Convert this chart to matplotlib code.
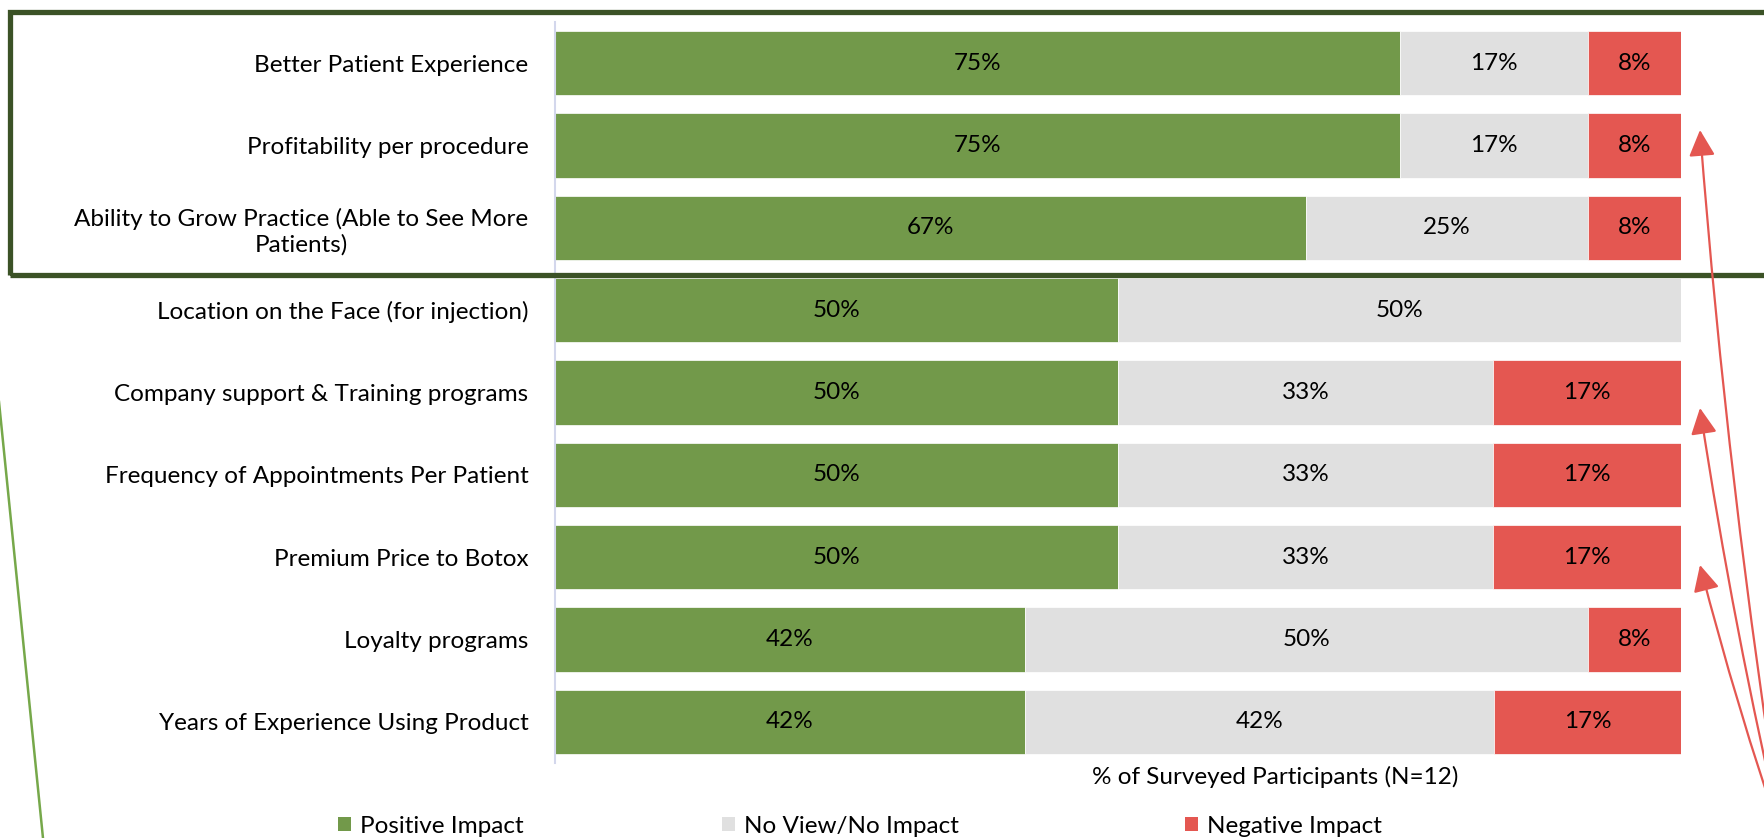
import matplotlib
matplotlib.use("Agg")
import matplotlib.pyplot as plt
from matplotlib.patches import Patch, Rectangle, FancyArrowPatch
from matplotlib.lines import Line2D

# survey results, % of participants (N=12)
factors = [
    "Better Patient Experience",
    "Profitability per procedure",
    "Ability to Grow Practice (Able to See More\nPatients)",
    "Location on the Face (for injection)",
    "Company support & Training programs",
    "Frequency of Appointments Per Patient",
    "Premium Price to Botox",
    "Loyalty programs",
    "Years of Experience Using Product",
]
positive = [75.0, 75.0, 66.7, 50.0, 50.0, 50.0, 50.0, 41.7, 41.7]
no_view = [16.7, 16.7, 25.0, 50.0, 33.3, 33.3, 33.3, 50.0, 41.7]
negative = [8.3, 8.3, 8.3, 0.0, 16.7, 16.7, 16.7, 8.3, 16.7]

series_names = ["Positive Impact", "No View/No Impact", "Negative Impact"]
colors = ["#72994a", "#e0e0e0", "#e45751"]

plt.rcParams["font.family"] = ["Lato", "DejaVu Sans"]
FS = 17.5

W, H = 1765, 838
fig = plt.figure(figsize=(W / 100, H / 100), dpi=100)
ax = fig.add_axes([555 / W, 1 - 763 / H, 1126 / W, 741 / H])

y = list(range(len(factors)))
left = [0.0] * len(factors)
for vals, col, name in zip([positive, no_view, negative], colors, series_names):
    ax.barh(y, vals, left=left, height=0.78, color=col, edgecolor="white",
            linewidth=0.5, label=name)
    for i, v in enumerate(vals):
        if v > 0:
            ax.text(left[i] + v / 2, i, f"{v:.0f}%", ha="center", va="center",
                    fontsize=FS, color="black")
    left = [l + v for l, v in zip(left, vals)]

ax.set_xlim(0, 100)
ax.set_ylim(len(factors) - 0.5, -0.5)
ax.set_yticks(y)
ax.set_yticklabels(factors, fontsize=FS, multialignment="center")
ax.tick_params(axis="y", length=0, pad=19)
ax.set_xticks([])
for s in ["top", "right", "bottom"]:
    ax.spines[s].set_visible(False)
ax.spines["left"].set_color("#d3d7ec")
ax.spines["left"].set_linewidth(1.5)

fig.text(1275 / W, 1 - 777 / H, "% of Surveyed Participants (N=12)",
         ha="center", va="center", fontsize=FS)

# legend entries placed one by one
legend_x = [338, 722, 1185]
for name, col, lx in zip(series_names, colors, legend_x):
    fig.legend(handles=[Patch(facecolor=col, edgecolor="none")], labels=[name],
               loc="center left", bbox_to_anchor=(lx / W, 1 - 826 / H),
               frameon=False, fontsize=FS, borderpad=0, borderaxespad=0,
               handlelength=0.55, handleheight=0.55, handletextpad=0.35)

# highlight box around the top three factors
fig.add_artist(Rectangle((10 / W, 1 - 275 / H), 1.2, 263 / H,
                         transform=fig.transFigure, fill=False,
                         edgecolor="#3b5226", linewidth=3.8))

# callout lines
fig.add_artist(Line2D([-2 / W, 45 / W], [1 - 392 / H, 1 - 858 / H],
                      transform=fig.transFigure, color="#76a84a", linewidth=1.8))
for ty in [130, 408, 565]:
    fig.add_artist(FancyArrowPatch((1784 / W, 1 - 845 / H), (1700 / W, 1 - ty / H),
                                   transform=fig.transFigure,
                                   connectionstyle="arc3,rad=-0.02",
                                   arrowstyle="-|>,head_length=0.8,head_width=0.4",
                                   mutation_scale=20, color="#e45751",
                                   linewidth=1.6, shrinkA=0, shrinkB=0))

fig.savefig("out.png", dpi=100)
